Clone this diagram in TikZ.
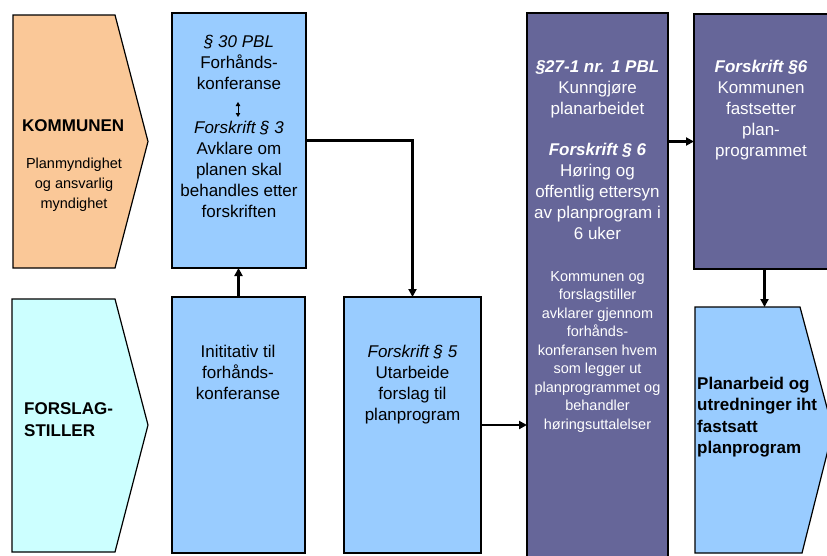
\documentclass[tikz,border=0pt]{standalone}
\usepackage{fontspec}
\setmainfont{Liberation Sans}
\usetikzlibrary{arrows.meta}
\definecolor{orangefill}{HTML}{FAC898}
\definecolor{cyanfill}{HTML}{CCFFFF}
\definecolor{bluefill}{HTML}{99CCFF}
\definecolor{purplefill}{HTML}{666699}
\tikzset{
  box/.style={draw=black, line width=1.2pt, inner sep=0pt, outer sep=0pt, anchor=north west},
  shapeline/.style={draw=black, line width=1.2pt, line join=miter},
  txt/.style={align=center, inner sep=0pt, outer sep=0pt, anchor=north, font=\fontsize{17}{20.8}\selectfont},
  smalltxt/.style={align=center, inner sep=0pt, outer sep=0pt, anchor=north, font=\fontsize{14.5}{18.5}\selectfont},
  arr/.style={line width=2.6pt, -{Triangle[length=8pt,width=8pt]}},
  smallarr/.style={line width=0.9pt, {Triangle[length=4pt,width=4.5pt]}-{Triangle[length=4pt,width=4.5pt]}},
}
\begin{document}
\begin{tikzpicture}[x=1pt,y=-1pt]
\path[use as bounding box, clip] (0,0) rectangle (827,555);
\fill[white] (0,0) rectangle (827,555);

% chevrons
\path[shapeline, fill=orangefill] (13,15) -- (115,15) -- (148,141.5) -- (115,268) -- (13,268) -- cycle;
\path[shapeline, fill=cyanfill] (12,299) -- (115,299) -- (148,425) -- (115,552) -- (12,552) -- cycle;
\path[shapeline, fill=bluefill] (695,307) -- (800,307) -- (833,430) -- (802,553) -- (695,553) -- cycle;
\coordinate (c3top) at (764.5,307);

\node[align=left, inner sep=0pt, anchor=north west, font=\fontsize{17}{20.8}\selectfont\bfseries] (kom) at (22,116.4) {\strut KOMMUNEN};
\node[align=center, inner sep=0pt, anchor=north, font=\fontsize{14.5}{20}\selectfont] (komtxt) at (74,154.1) {\strut Planmyndighet\\og ansvarlig\\myndighet};
\node[align=left, inner sep=0pt, anchor=north west, font=\fontsize{17}{22}\selectfont\bfseries] (fst) at (24,398.6) {\strut FORSLAG-\\STILLER};
\node[align=left, inner sep=0pt, anchor=north west, font=\fontsize{17}{21.5}\selectfont\bfseries] (plan) at (697,374) {\strut Planarbeid og\\utredninger iht\\fastsatt\\planprogram};

% boxes
\node[box, fill=bluefill, minimum width=134pt, minimum height=255pt] (b1) at (172,13) {};
\node[box, fill=bluefill, minimum width=133pt, minimum height=256pt] (b2) at (172,297) {};
\node[box, fill=bluefill, minimum width=137pt, minimum height=256pt] (b3) at (344,297) {};
\node[box, fill=purplefill, minimum width=141pt, minimum height=550pt] (p1) at (527,13) {};
\node[box, fill=purplefill, minimum width=141pt, minimum height=255pt] (p2) at (694,14) {};

% box texts
\node[txt] (b1a) at (239,33.4) {\strut\textit{§ 30 PBL}\\Forhånds-\\konferanse};
\coordinate (dtop) at (238,102);
\coordinate (dbot) at (238,117);
\draw[smallarr] (dtop) -- (dbot);
\node[txt] (b1b) at (239,119.4) {\strut\textit{Forskrift § 3}\\Avklare om\\planen skal\\behandles etter\\forskriften};
\node[txt] (b2t) at (238,343.4) {\strut Inititativ til\\forhånds-\\konferanse};
\node[txt] (b3t) at (412.5,343.4) {\strut\textit{Forskrift § 5}\\Utarbeide\\forslag til\\planprogram};

\node[txt, text=white] (p1a) at (597.5,58.4) {\strut\textbf{\textit{§27-1 nr. 1 PBL}}\\Kunngjøre\\planarbeidet};
\node[txt, text=white] (p1b) at (597.5,141.4) {\strut\textbf{\textit{Forskrift § 6}}\\Høring og\\offentlig ettersyn\\av planprogram i\\6 uker};
\node[smalltxt, text=white] (p1c) at (597.5,268.1) {\strut Kommunen og\\forslagstiller\\avklarer gjennom\\forhånds-\\konferansen hvem\\som legger ut\\planprogrammet og\\behandler\\høringsuttalelser};
\node[txt, text=white] (p2t) at (761,58.4) {\strut\textbf{\textit{Forskrift §6}}\\Kommunen\\fastsetter\\plan-\\programmet};

% connectors
\draw[arr] (b2.north) -- (b2.north |- b1.south);
\draw[arr] (b1.east) -| (b3.north);
\draw[arr] (b3.east) -- (b3.east -| p1.west);
\draw[arr] (p2.west -| p1.east) -- (p2.west);
\draw[arr] (p2.south) -- (c3top);
\end{tikzpicture}
\end{document}
